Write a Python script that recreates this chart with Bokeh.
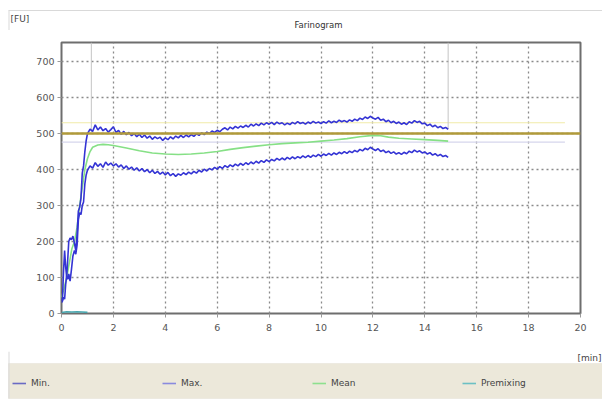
from bokeh.plotting import figure
from bokeh.layouts import column
from bokeh.models import Range1d, BoxAnnotation, Legend, LegendItem, FixedTicker
from bokeh.core.properties import value
from bokeh.embed import file_html
from bokeh.resources import INLINE

# ---------------- data ----------------
x_ticks = [0, 2, 4, 6, 8, 10, 12, 14, 16, 18, 20]
y_ticks = [0, 100, 200, 300, 400, 500, 600, 700]

early_t = [0.00, 0.04, 0.08, 0.12, 0.16, 0.20, 0.24, 0.28, 0.33, 0.38, 0.44, 0.50,
           0.55, 0.60, 0.65, 0.70, 0.75, 0.80, 0.85, 0.90, 0.95]
max_early = [35, 45, 120, 175, 130, 100, 150, 200, 210, 205, 215, 195,
             175, 220, 285, 295, 320, 390, 410, 450, 480]
min_early = [30, 35, 45, 40, 80, 105, 95, 110, 90, 120, 160, 175,
             165, 190, 260, 280, 275, 300, 310, 360, 385]

late_t = [1.0, 1.1, 1.2, 1.3, 1.4, 1.5, 1.6, 1.7, 1.8, 1.9,
          2.0, 2.1, 2.2, 2.3, 2.4, 2.5, 2.6, 2.7, 2.8, 2.9,
          3.0, 3.1, 3.2, 3.3, 3.4, 3.5, 3.6, 3.7, 3.8, 3.9,
          4.0, 4.1, 4.2, 4.3, 4.4, 4.5, 4.6, 4.7, 4.8, 4.9,
          5.0, 5.1, 5.2, 5.3, 5.4, 5.5, 5.6, 5.7, 5.8, 5.9,
          6.0, 6.1, 6.2, 6.3, 6.4, 6.5, 6.6, 6.7, 6.8, 6.9,
          7.0, 7.1, 7.2, 7.3, 7.4, 7.5, 7.6, 7.7, 7.8, 7.9,
          8.0, 8.1, 8.2, 8.3, 8.4, 8.5, 8.6, 8.7, 8.8, 8.9,
          9.0, 9.1, 9.2, 9.3, 9.4, 9.5, 9.6, 9.7, 9.8, 9.9,
          10.0, 10.1, 10.2, 10.3, 10.4, 10.5, 10.6, 10.7, 10.8, 10.9,
          11.0, 11.1, 11.2, 11.3, 11.4, 11.5, 11.6, 11.7, 11.8, 11.9,
          12.0, 12.1, 12.2, 12.3, 12.4, 12.5, 12.6, 12.7, 12.8, 12.9,
          13.0, 13.1, 13.2, 13.3, 13.4, 13.5, 13.6, 13.7, 13.8, 13.9,
          14.0, 14.1, 14.2, 14.3, 14.4, 14.5, 14.6, 14.7, 14.8, 14.9]
max_late = [500, 512, 506, 524, 510, 518, 508, 514, 504, 511,
            519, 503, 509, 498, 506, 497, 503, 494, 500, 491,
            498, 489, 496, 487, 493, 484, 491, 486, 490, 481,
            488, 483, 491, 485, 493, 488, 495, 489, 496, 491,
            497, 492, 499, 495, 502, 497, 504, 500, 507, 503,
            509, 505, 512, 516, 510, 518, 513, 520, 515, 521,
            517, 523, 518, 526, 521, 527, 522, 529, 524, 530,
            526, 531, 525, 532, 527, 530, 524, 529, 525, 531,
            527, 533, 528, 531, 526, 532, 528, 534, 529, 532,
            528, 533, 529, 535, 530, 534, 531, 537, 533, 536,
            532, 538, 534, 540, 536, 543, 539, 546, 542, 548,
            543, 540, 545, 537, 540, 533, 537, 530, 534, 528,
            532, 526, 530, 525, 533, 529, 536, 531, 534, 527,
            529, 522, 526, 519, 523, 516, 520, 514, 517, 512]
min_late = [398, 410, 404, 419, 409, 416, 406, 421, 412, 418,
            410, 416, 407, 413, 403, 410, 401, 407, 398, 405,
            396, 403, 394, 400, 391, 398, 389, 395, 387, 393,
            385, 392, 383, 389, 381, 388, 384, 391, 386, 393,
            388, 395, 390, 398, 393, 401, 396, 403, 399, 406,
            401, 408, 403, 411, 406, 413, 408, 415, 410, 417,
            412, 419, 414, 421, 416, 423, 418, 425, 420, 427,
            422, 428, 424, 431, 426, 432, 427, 434, 429, 435,
            430, 436, 432, 438, 433, 439, 434, 440, 436, 442,
            437, 443, 439, 445, 440, 446, 442, 448, 444, 450,
            445, 451, 447, 453, 449, 456, 452, 459, 455, 462,
            457, 453, 458, 450, 454, 447, 451, 445, 449, 443,
            447, 442, 448, 444, 451, 447, 454, 449, 452, 446,
            449, 443, 447, 440, 444, 438, 442, 436, 439, 434]

mean_t = [0.0, 0.1, 0.2, 0.3, 0.4, 0.5, 0.6, 0.7, 0.8, 0.9, 1.0, 1.1, 1.2, 1.4,
          1.6, 1.8, 2.0, 2.5, 3.0, 3.5, 4.0, 4.5, 5.0, 5.5, 6.0, 6.5, 7.0, 7.5,
          8.0, 8.5, 9.0, 9.5, 10.0, 10.5, 11.0, 11.5, 12.0, 12.3, 12.6, 13.0,
          13.5, 14.0, 14.5, 14.9]
mean_v = [45, 70, 100, 140, 180, 200, 240, 300, 350, 400, 430, 450, 462, 468,
          470, 469, 467, 460, 452, 446, 443, 442, 443, 446, 450, 456, 461, 465,
          469, 472, 474, 476, 479, 482, 486, 491, 495, 494, 490, 487,
          485, 483, 481, 479]

premix_t = [0.0, 0.2, 0.4, 0.6, 0.8, 1.0]
premix_v = [3, 5, 4, 5, 4, 3]

target_fu = 500
band_hi = 530
band_lo = 476
marker_t = [1.15, 14.9]

legend_names = ["Min.", "Max.", "Mean", "Premixing"]
series_colors = ["#3434d4", "#3434d4", "#86e086", "#4aa8b0"]
legend_colors = ["#6a6ac4", "#8a8ade", "#8ee08e", "#6cc0c4"]

W = 602
FONT = "DejaVu Sans"


def strip(height):
    f = figure(width=W, height=height, output_backend="svg", toolbar_location=None,
               x_range=Range1d(0, W), y_range=Range1d(0, height),
               x_axis_type=None, y_axis_type=None, min_border=0, frame_align=False)
    f.outline_line_color = None
    f.background_fill_color = "white"
    f.border_fill_color = "white"
    return f


# ---------------- header strip ----------------
top = strip(30)
top.segment(x0=[8], y0=[20], x1=[W], y1=[20], line_color="#d9d9d9", line_width=1)
top.segment(x0=[8.5], y0=[0], x1=[8.5], y1=[20], line_color="#d9d9d9", line_width=1)
top.text(x=[10], y=[12], text=["[FU]"], text_font=value(FONT), text_font_size="9px",
         text_color="#444444", text_align="left", text_baseline="middle")
top.text(x=[318], y=[6], text=["Farinogram"], text_font=value(FONT), text_font_size="8.5px",
         text_color="#333333", text_align="center", text_baseline="middle")

# ---------------- main chart ----------------
p = figure(width=W, height=321, output_backend="svg", toolbar_location=None,
           x_range=Range1d(0, 20), y_range=Range1d(0, 753), frame_align=False,
           min_border_left=61, min_border_right=22, min_border_top=12, min_border_bottom=38)
p.background_fill_color = "white"
p.border_fill_color = "white"
p.outline_line_color = "#6e6e6e"
p.outline_line_width = 2

for ax in (p.xaxis[0], p.yaxis[0]):
    ax.axis_line_color = None
    ax.major_tick_line_color = "#9a9a9a"
    ax.major_tick_in = 0
    ax.major_tick_out = 4
    ax.minor_tick_line_color = None
    ax.major_label_text_font = FONT
    ax.major_label_text_font_size = "9.5px"
    ax.major_label_text_color = "#555555"
p.xaxis.ticker = FixedTicker(ticks=x_ticks)
p.yaxis.ticker = FixedTicker(ticks=y_ticks)
p.xaxis.major_label_standoff = 6
p.yaxis.major_label_standoff = 3

p.grid.grid_line_color = "#8a8a8a"
p.grid.grid_line_dash = "2 3"
p.grid.grid_line_width = 1.3
p.xgrid.ticker = FixedTicker(ticks=x_ticks)
p.ygrid.ticker = FixedTicker(ticks=y_ticks)

# reference lines
p.segment(x0=[0], y0=[band_hi], x1=[19.4], y1=[band_hi], line_color="#f1eba8", line_width=1.2)
p.segment(x0=[0], y0=[band_lo], x1=[19.4], y1=[band_lo], line_color="#d6d6ec", line_width=1.2)
p.segment(x0=marker_t, y0=[505, 512], x1=marker_t, y1=[753, 753], line_color="#c4c4c4", line_width=1)

# curves
p.line(premix_t, premix_v, line_color=series_colors[3], line_width=1.6)
p.line(mean_t, mean_v, line_color=series_colors[2], line_width=1.6)
p.line(early_t + late_t, max_early + max_late, line_color=series_colors[1], line_width=1.6)
p.line(early_t + late_t, min_early + min_late, line_color=series_colors[0], line_width=1.6)
p.segment(x0=[0], y0=[target_fu], x1=[20], y1=[target_fu], line_color="#b09a3a", line_width=2.4)

# ---------------- legend strip ----------------
bot = strip(49)
bot.segment(x0=[8.5], y0=[2], x1=[8.5], y1=[49], line_color="#d9d9d9", line_width=1)
bot.text(x=[601], y=[43], text=["[min]"], text_font=value(FONT), text_font_size="9px",
         text_color="#444444", text_align="right", text_baseline="middle")
bot.add_layout(BoxAnnotation(left=8, top=37, bottom=2, fill_color="#ece8da", fill_alpha=1,
                             line_color="#dcd8c8", line_width=1, level="underlay"))
proxies = [bot.line([-100, -90], [-100, -100], line_color=c, line_width=1.6)
           for c in legend_colors]
items = [LegendItem(label=n, renderers=[r]) for n, r in zip(legend_names, proxies)]
legend = Legend(items=items, orientation="horizontal", location=(12, 11),
                background_fill_alpha=0, border_line_color=None,
                padding=0, margin=0, spacing=0,
                glyph_width=14, glyph_height=12, label_height=12,
                label_standoff=5, label_width=131,
                label_text_font=FONT, label_text_font_size="9px",
                label_text_color="#444444")
bot.add_layout(legend, "center")

layout = column(top, p, bot, spacing=0)
open("out.html", "w").write(file_html(layout, INLINE))
